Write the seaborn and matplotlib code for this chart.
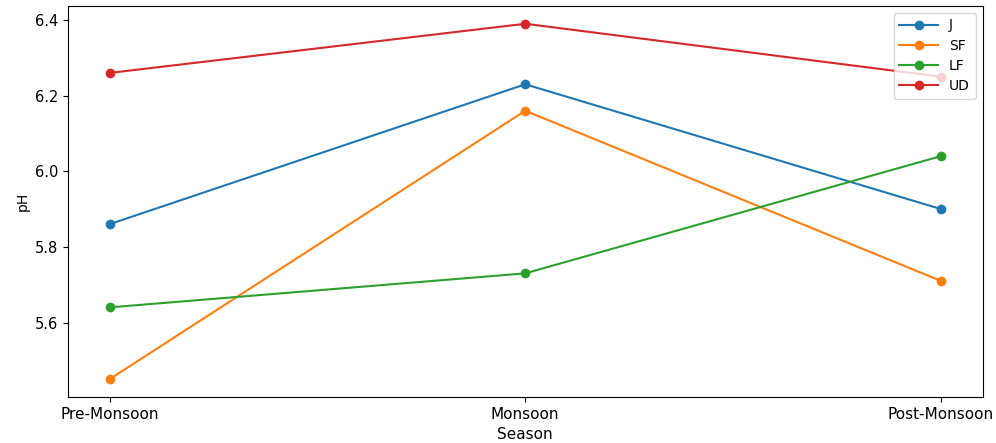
import matplotlib
matplotlib.use("Agg")
import matplotlib.pyplot as plt
import seaborn as sns
import pandas as pd

seasons = ["Pre-Monsoon", "Monsoon", "Post-Monsoon"]
locations = ["J", "SF", "LF", "UD"]
ph_j = [5.86, 6.23, 5.90]
ph_sf = [5.45, 6.16, 5.71]
ph_lf = [5.64, 5.73, 6.04]
ph_ud = [6.26, 6.39, 6.25]

series = {"J": ph_j, "SF": ph_sf, "LF": ph_lf, "UD": ph_ud}
rows = []
for loc in locations:
    for s, v in zip(seasons, series[loc]):
        rows.append({"Season": s, "pH": v, "Location": loc})
df = pd.DataFrame(rows)

plt.rcParams["font.family"] = ["DejaVu Sans"]
fig = plt.figure(figsize=(9.96, 4.43), dpi=100)
ax = fig.add_axes([68 / 996, 1 - 397 / 443, (982.5 - 68) / 996, (397 - 6) / 443])

palette = sns.color_palette("tab10", 4)
sns.lineplot(data=df, x="Season", y="pH", hue="Location", hue_order=locations,
             palette=palette, marker="o", markersize=7, markeredgewidth=0,
             linewidth=1.5, ax=ax, sort=False)

ax.set_xlabel("Season", fontsize=11)
ax.set_ylabel("pH", fontsize=10)
ax.set_yticks([5.6, 5.8, 6.0, 6.2, 6.4])
ax.tick_params(axis="x", labelsize=11)
ax.tick_params(axis="y", labelsize=10.5)
sns.move_legend(ax, "upper right", title=None, fontsize=10, handlelength=2.8,
                labelspacing=0.45)

fig.savefig("out.png", dpi=100)
